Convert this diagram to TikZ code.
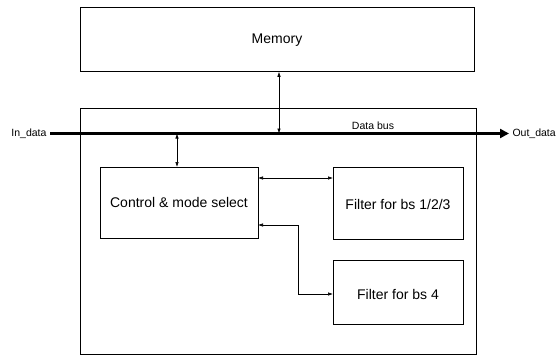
\documentclass[tikz,border=0pt]{standalone}
\usepackage{fontspec}
\setmainfont{Liberation Sans}
\usetikzlibrary{arrows.meta}
\begin{document}
\begin{tikzpicture}[x=1pt,y=-1pt,
  blk/.style={draw, line width=0.8pt, inner sep=0pt},
  big/.style={font=\fontsize{14}{16}\selectfont},
  small/.style={font=\fontsize{10.5}{12}\selectfont},
  link/.style={line width=0.6pt, {Latex[length=5pt,width=3.5pt]}-{Latex[length=5pt,width=3.5pt]}},
  bus/.style={line width=2.4pt, -{Triangle[length=9pt,width=9pt]}}]
\useasboundingbox (0,0) rectangle (560,356);
% boxes
\node[blk, minimum width=394pt, minimum height=64pt, anchor=north west] (mem) at (80,7) {};
\node[big] (memt) at (277,40) {Memory};
\node[blk, minimum width=396pt, minimum height=246pt, anchor=north west] (outer) at (80,108) {};
\node[blk, minimum width=158pt, minimum height=71pt, anchor=north west] (ctrl) at (100,167) {};
\node[big] (ctrlt) at (179,202) {Control \& mode select};
\node[blk, minimum width=130pt, minimum height=72pt, anchor=north west] (f1) at (333,167) {};
\node[big] (f1t) at (398,204) {Filter for bs 1/2/3};
\node[blk, minimum width=130pt, minimum height=64pt, anchor=north west] (f4) at (333,260) {};
\node[big] (f4t) at (398,294) {Filter for bs 4};
% bus
\node[small, anchor=east] (in) at (50,133.5) {In\_data};
\node[small, anchor=west] (out) at (509,133.5) {Out\_data};
\draw[bus] (in.east) -- (out.west);
\node[small] (db) at (373,126) {Data bus};
% connectors
\coordinate (mb) at (279,133.5);
\draw[link] (mem.south -| mb) -- (mb);
\coordinate (cb) at (177,133.5);
\draw[link] (cb) -- (cb |- ctrl.north);
\coordinate (c1) at (258,178);
\draw[link] (c1) -- (c1 -| f1.west);
\coordinate (c2) at (258,225);
\coordinate (c4) at (333,294);
\draw[link] (c2) -- (298,225) -- (298,294) -- (c4);
\end{tikzpicture}
\end{document}
